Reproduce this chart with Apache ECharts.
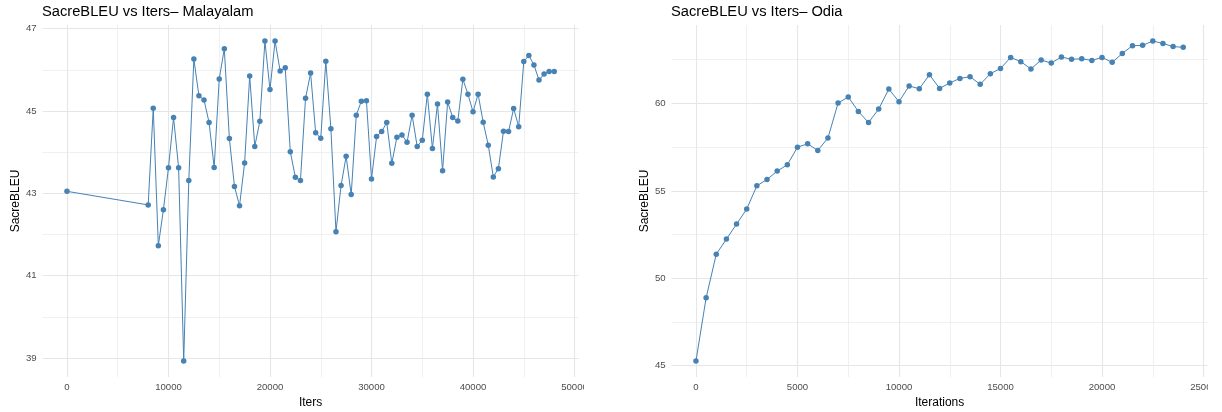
<!DOCTYPE html>
<html>
<head>
<meta charset="utf-8">
<script src="https://cdn.jsdelivr.net/npm/echarts@6/dist/echarts.min.js"></script>
<style>
html,body{margin:0;padding:0;background:#fff;}
#c{width:1222px;height:412px;}
</style>
</head>
<body>
<div id="c"></div>
<script>
// ---- Data ----
const malTitle = 'SacreBLEU vs Iters\u2013 Malayalam';
const odiaTitle = 'SacreBLEU vs Iters\u2013 Odia';

const malIters = [0, 8000, 8500, 9000, 9500, 10000, 10500, 11000, 11500, 12000, 12500, 13000, 13500, 14000, 14500,
  15000, 15500, 16000, 16500, 17000, 17500, 18000, 18500, 19000, 19500, 20000, 20500, 21000, 21500, 22000, 22500,
  23000, 23500, 24000, 24500, 25000, 25500, 26000, 26500, 27000, 27500, 28000, 28500, 29000, 29500, 30000, 30500,
  31000, 31500, 32000, 32500, 33000, 33500, 34000, 34500, 35000, 35500, 36000, 36500, 37000, 37500, 38000, 38500,
  39000, 39500, 40000, 40500, 41000, 41500, 42000, 42500, 43000, 43500, 44000, 44500, 45000, 45500, 46000, 46500,
  47000, 47500, 48000];
const malBleu = [43.05, 42.72, 45.07, 41.73, 42.60, 43.62, 44.84, 43.62, 38.93, 43.31, 46.26, 45.37, 45.27, 44.72, 43.63,
  45.78, 46.51, 44.33, 43.17, 42.70, 43.74, 45.85, 44.14, 44.75, 46.70, 45.52, 46.70, 45.97, 46.05, 44.01, 43.39,
  43.31, 45.31, 45.92, 44.47, 44.34, 46.21, 44.57, 42.07, 43.19, 43.90, 42.97, 44.90, 45.24, 45.25, 43.35, 44.38,
  44.50, 44.72, 43.73, 44.36, 44.42, 44.24, 44.90, 44.14, 44.29, 45.41, 44.09, 45.17, 43.55, 45.22, 44.84, 44.76,
  45.77, 45.41, 44.98, 45.41, 44.73, 44.17, 43.40, 43.60, 44.51, 44.50, 45.06, 44.62, 46.20, 46.35, 46.12, 45.75,
  45.90, 45.96, 45.96];

const odiaIters = [0, 500, 1000, 1500, 2000, 2500, 3000, 3500, 4000, 4500, 5000, 5500, 6000, 6500, 7000, 7500, 8000,
  8500, 9000, 9500, 10000, 10500, 11000, 11500, 12000, 12500, 13000, 13500, 14000, 14500, 15000, 15500, 16000,
  16500, 17000, 17500, 18000, 18500, 19000, 19500, 20000, 20500, 21000, 21500, 22000, 22500, 23000, 23500, 24000];
const odiaBleu = [45.27, 48.88, 51.38, 52.24, 53.10, 53.96, 55.29, 55.65, 56.13, 56.49, 57.50, 57.69, 57.31, 58.02,
  60.02, 60.37, 59.54, 58.91, 59.68, 60.82, 60.10, 61.00, 60.84, 61.64, 60.86, 61.17, 61.43, 61.53, 61.09, 61.70,
  62.00, 62.63, 62.39, 61.97, 62.48, 62.31, 62.66, 62.52, 62.56, 62.46, 62.63, 62.35, 62.86, 63.30, 63.32, 63.57,
  63.43, 63.25, 63.21];

// tick labels / gridline breaks
const malXMajor = [0, 10000, 20000, 30000, 40000, 50000];
const malXMinor = [5000, 15000, 25000, 35000, 45000];
const malYMajor = [39, 41, 43, 45, 47];
const malYMinor = [40, 42, 44, 46];
const odiaXMajor = [0, 5000, 10000, 15000, 20000, 25000];
const odiaXMinor = [2500, 7500, 12500, 17500, 22500];
const odiaYMajor = [45, 50, 55, 60];
const odiaYMinor = [47.5, 52.5, 57.5, 62.5];

// ---- Helpers ----
function expand(arr) {
  const mn = Math.min(...arr), mx = Math.max(...arr);
  const pad = (mx - mn) * 0.05;
  return [mn - pad, mx + pad];
}
const FONT = 'Liberation Sans, Arial, Helvetica, sans-serif';
const STEEL = '#4682B4';

function majorAxis(range, vals, isX, name, gridIndex) {
  return {
    type: 'value', gridIndex: gridIndex,
    min: range[0], max: range[1],
    name: name, nameLocation: 'middle',
    nameGap: isX ? 15.5 : 20,
    nameTextStyle: {color: '#000', fontSize: 12, fontFamily: FONT},
    axisLine: {show: false},
    axisTick: {show: false, customValues: vals},
    axisLabel: {customValues: vals, color: '#4D4D4D', fontSize: 9.6, fontFamily: FONT, margin: isX ? 5 : 6,
      formatter: v => String(v)},
    splitLine: {show: true, lineStyle: {color: '#E6E6E6', width: 1.1}}
  };
}
function minorAxis(range, vals, gridIndex) {
  return {
    type: 'value', gridIndex: gridIndex,
    min: range[0], max: range[1],
    axisLine: {show: false},
    axisTick: {show: false, customValues: vals},
    axisLabel: {show: false, customValues: vals},
    splitLine: {show: true, lineStyle: {color: '#EAEAEA', width: 0.7}}
  };
}

const malX = expand(malIters), malY = expand(malBleu);
const odiaX = expand(odiaIters), odiaY = expand(odiaBleu);

function pairs(xs, ys) { return xs.map((x, i) => [x, ys[i]]); }

const chart = echarts.init(document.getElementById('c'), null, {renderer: 'canvas'});
chart.setOption({
  animation: false,
  backgroundColor: '#fff',
  title: [
    {text: malTitle, left: 42, top: 4.5, padding: 0,
      textStyle: {fontSize: 14.7, fontWeight: 'normal', color: '#000', fontFamily: FONT}},
    {text: odiaTitle, left: 671, top: 4.5, padding: 0,
      textStyle: {fontSize: 14.7, fontWeight: 'normal', color: '#000', fontFamily: FONT}}
  ],
  grid: [
    {left: 42.6, width: 536, top: 25, bottom: 35, containLabel: false, outerBoundsMode: 'none'},
    {left: 671.6, width: 536, top: 25, bottom: 35, containLabel: false, outerBoundsMode: 'none'}
  ],
  xAxis: [
    majorAxis(malX, malXMajor, true, 'Iters', 0),
    minorAxis(malX, malXMinor, 0),
    majorAxis(odiaX, odiaXMajor, true, 'Iterations', 1),
    minorAxis(odiaX, odiaXMinor, 1)
  ],
  yAxis: [
    majorAxis(malY, malYMajor, false, 'SacreBLEU', 0),
    minorAxis(malY, malYMinor, 0),
    majorAxis(odiaY, odiaYMajor, false, 'SacreBLEU', 1),
    minorAxis(odiaY, odiaYMinor, 1)
  ],
  series: [
    {type: 'line', xAxisIndex: 0, yAxisIndex: 0, data: pairs(malIters, malBleu),
      symbol: 'circle', symbolSize: 5.5, showSymbol: true,
      lineStyle: {color: STEEL, width: 1}, itemStyle: {color: STEEL}, z: 5},
    {type: 'line', xAxisIndex: 2, yAxisIndex: 2, data: pairs(odiaIters, odiaBleu),
      symbol: 'circle', symbolSize: 5.5, showSymbol: true,
      lineStyle: {color: STEEL, width: 1}, itemStyle: {color: STEEL}, z: 5}
  ],
  graphic: [
    {type: 'rect', shape: {x: 584, y: 379, width: 40, height: 16}, style: {fill: '#fff'}, z: 100, silent: true},
    {type: 'rect', shape: {x: 1208, y: 379, width: 20, height: 16}, style: {fill: '#fff'}, z: 100, silent: true}
  ]
});
</script>
</body>
</html>
